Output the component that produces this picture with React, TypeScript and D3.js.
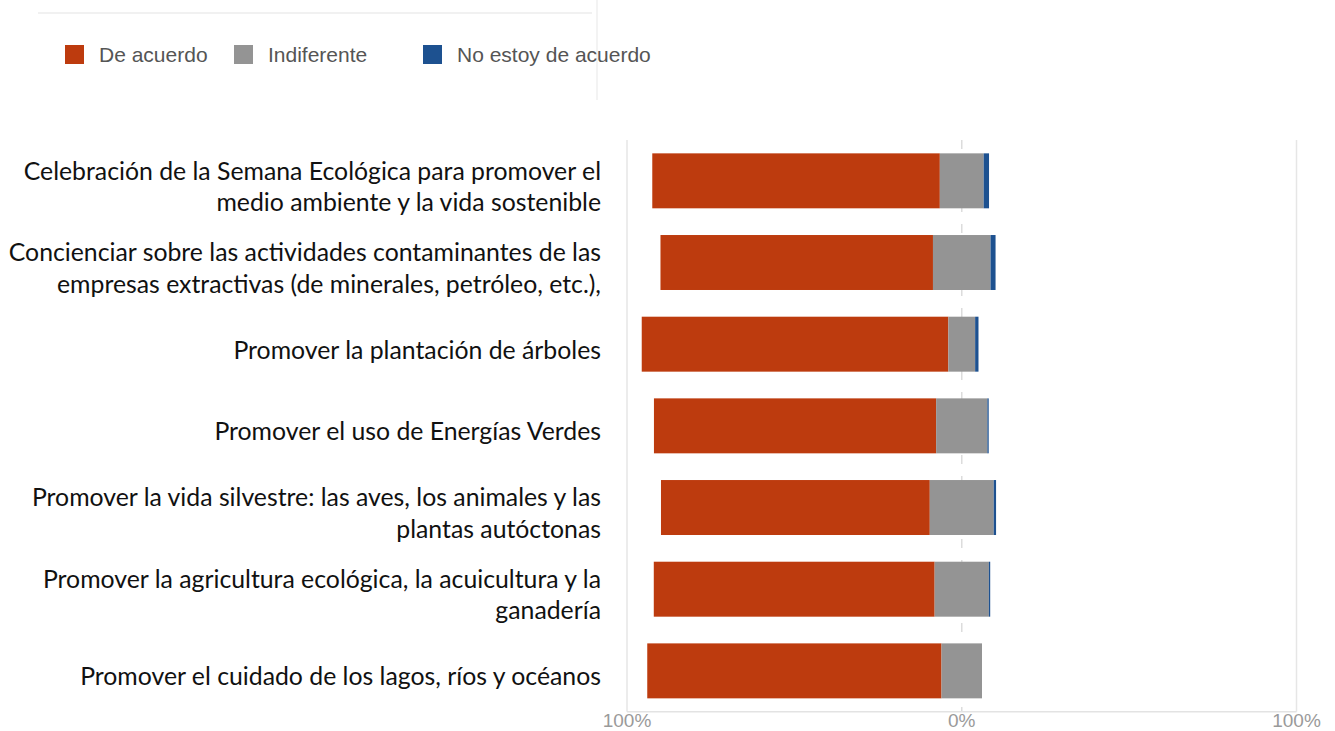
import React from "react";
import * as d3 from "d3";

const categories: string[][] = [
  ["Celebración de la Semana Ecológica para promover el", "medio ambiente y la vida sostenible"],
  ["Concienciar sobre las actividades contaminantes de las", "empresas extractivas (de minerales, petróleo, etc.),"],
  ["Promover la plantación de árboles"],
  ["Promover el uso de Energías Verdes"],
  ["Promover la vida silvestre: las aves, los animales y las", "plantas autóctonas"],
  ["Promover la agricultura ecológica, la acuicultura y la", "ganadería"],
  ["Promover el cuidado de los lagos, ríos y océanos"],
];
const deAcuerdo = [85.9, 81.4, 91.6, 84.3, 80.3, 83.9, 87.9];
const indiferente = [13.1, 17.2, 8.0, 15.3, 19.1, 16.2, 12.1];
const noDeAcuerdo = [1.6, 1.5, 1.0, 0.4, 0.7, 0.4, 0.0];
const seriesNames = ["De acuerdo", "Indiferente", "No estoy de acuerdo"];
const seriesColors = ["#bd3b0e", "#949494", "#1d5190"];
const tickValues = [-100, 0, 100];
const tickLabels = ["100%", "0%", "100%"];

export default function App() {
  const W = 1335, H = 731;
  const x = d3.scaleLinear().domain([-100, 100]).range([627, 1296.5]);
  const ids = categories.map((_, i) => String(i));
  const y = d3.scaleBand().domain(ids).range([140, 711.7]).paddingInner(0.327).paddingOuter(0.1635);
  const bw = y.bandwidth();
  const rows = ids.map((id, i) => {
    const start = -(deAcuerdo[i] + indiferente[i] / 2);
    const vals = [deAcuerdo[i], indiferente[i], noDeAcuerdo[i]];
    let acc = start;
    const segs = vals.map((v, k) => {
      const s = { x0: acc, x1: acc + v, k };
      acc += v;
      return s;
    });
    return { id, i, segs };
  });
  const legendX = [65, 234, 423];
  const lineH = 31.5;
  return (
    <svg width={W} height={H} style={{ position: "absolute", left: 0, top: 0, background: "#fff" }}>
      {/* faint screenshot artifacts */}
      <line x1={38} x2={592} y1={13} y2={13} stroke="#f1f1f1" strokeWidth={2} />
      <line x1={597} x2={597} y1={0} y2={100} stroke="#f3f3f3" strokeWidth={2} />
      {/* legend */}
      {seriesNames.map((n, k) => (
        <g key={n}>
          <rect x={legendX[k]} y={45} width={19} height={19} fill={seriesColors[k]} />
          <text x={legendX[k] + 34} y={54.5} dominantBaseline="central" fontFamily="Liberation Sans, Arial, sans-serif" fontSize={21} fill="#555">{n}</text>
        </g>
      ))}
      {/* grid */}
      {tickValues.map((t) => (
        <line key={t} x1={x(t)} x2={x(t)} y1={140} y2={711.7}
          stroke={t === 0 ? "#dcdcdc" : "#e6e6e6"} strokeWidth={1.5}
          strokeDasharray={t === 0 ? "9,12" : undefined} />
      ))}
      <line x1={x(-100)} x2={x(100)} y1={711.7} y2={711.7} stroke="#e3e3e3" strokeWidth={1.5} />
      {tickValues.map((t, i) => (
        <text key={"t" + i} x={x(t)} y={727} textAnchor="middle" fontFamily="Liberation Sans, Arial, sans-serif" fontSize={19} fill="#9a9a9a">{tickLabels[i]}</text>
      ))}
      {/* bars */}
      {rows.map((r) => (
        <g key={r.id}>
          {r.segs.map((s) => (
            <rect key={s.k} x={x(s.x0)} y={y(r.id)} width={Math.max(0, x(s.x1) - x(s.x0))} height={bw} fill={seriesColors[s.k]} />
          ))}
        </g>
      ))}
      {/* category labels */}
      {rows.map((r) => {
        const lines = categories[r.i];
        const cy = (y(r.id) as number) + bw / 2 + 5;
        const y0 = cy - ((lines.length - 1) * lineH) / 2;
        return (
          <text key={"l" + r.id} textAnchor="end" fontFamily="Lato, sans-serif" fontSize={24.8} fill="#111">
            {lines.map((ln, j) => (
              <tspan key={j} x={601} y={y0 + j * lineH} dominantBaseline="central">{ln}</tspan>
            ))}
          </text>
        );
      })}
    </svg>
  );
}
